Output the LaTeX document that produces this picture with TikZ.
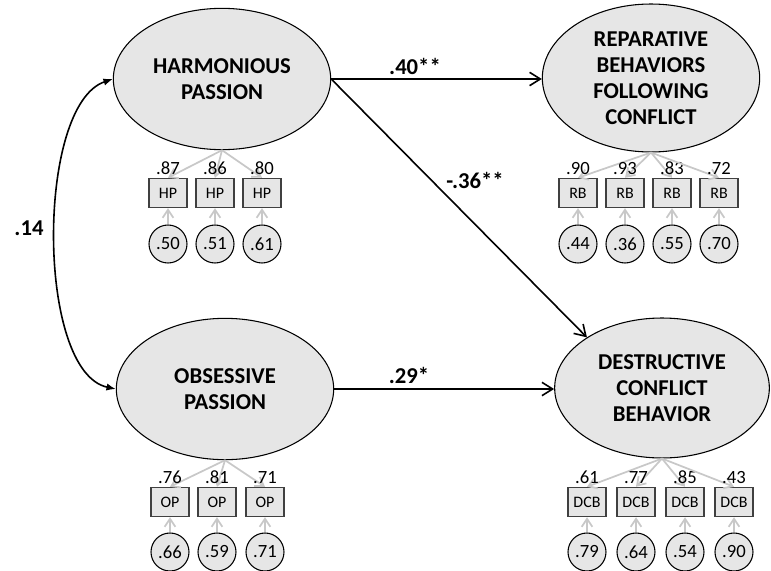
\documentclass[tikz,border=0pt]{standalone}
\usepackage{fontspec}
\setmainfont{Carlito}
\usepackage{tikz}
\usetikzlibrary{positioning, arrows.meta, shapes.geometric}

\definecolor{lvfill}{RGB}{230,230,230}
\definecolor{arrgray}{RGB}{200,200,200}
\definecolor{boxline}{RGB}{64,64,64}

\begin{document}
\begin{tikzpicture}[
    x=0.75pt, y=-0.75pt,
    latent/.style={ellipse, draw, line width=0.8pt, fill=lvfill, inner sep=0pt, align=center,
        minimum width=163pt, minimum height=106pt, font=\fontsize{17}{19.5}\selectfont\bfseries},
    ind/.style={rectangle, draw=boxline, line width=1.1pt, fill=lvfill, inner sep=0pt,
        minimum width=28.5pt, minimum height=21.75pt, font=\fontsize{12}{14}\selectfont},
    err/.style={circle, draw, line width=0.8pt, fill=lvfill, inner sep=0pt,
        minimum size=28.5pt, font=\fontsize{14}{16}\selectfont},
    load/.style={inner sep=1pt, font=\fontsize{14}{16}\selectfont},
    coef/.style={inner sep=1pt, font=\fontsize{17}{19}\selectfont\bfseries},
    reg/.style={-{Straight Barb[length=8pt, width=10pt]}, line width=1.2pt},
    meas/.style={-{Straight Barb[length=6pt, width=8pt]}, draw=arrgray, line width=1.3pt},
    cov/.style={{Latex[length=7pt, width=5.5pt]}-{Latex[length=7pt, width=5.5pt]}, line width=1.2pt}
]
\useasboundingbox (0,0) rectangle (771,571);

% latent variables
\node[latent] (hp) at (222,79) {HARMONIOUS\\PASSION};
\node[latent] (op) at (225,389) {OBSESSIVE\\PASSION};
\node[latent, minimum height=111pt] (rb) at (651,78) {REPARATIVE\\BEHAVIORS\\FOLLOWING\\CONFLICT};
\node[latent, minimum width=161pt, minimum height=105pt] (dcb) at (662,388) {DESTRUCTIVE\\CONFLICT\\BEHAVIOR};

% indicators
\foreach \x/\l/\e [count=\i] in {168/.87/.50, 215/.86/.51, 262/.80/.61} {
  \node[ind] (hp\i) at (\x,193) {HP};
  \node[err] (ehp\i) at (\x,244) {\e};
  \draw[meas] (hp.south) -- (hp\i.north);
  \draw[meas] (ehp\i) -- (hp\i);
  \node[load, above=1pt of hp\i] (lhp\i) {\l};
}
\foreach \x/\l/\e [count=\i] in {170/.76/.66, 217/.81/.59, 265/.71/.71} {
  \node[ind] (op\i) at (\x,502) {OP};
  \node[err] (eop\i) at (\x,552) {\e};
  \draw[meas] (op.south) -- (op\i.north);
  \draw[meas] (eop\i) -- (op\i);
  \node[load, above=1pt of op\i] (lop\i) {\l};
}
\foreach \x/\l/\e [count=\i] in {578/.90/.44, 625/.93/.36, 672/.83/.55, 719/.72/.70} {
  \node[ind] (rb\i) at (\x,193) {RB};
  \node[err] (erb\i) at (\x,244) {\e};
  \draw[meas] (rb.south) -- (rb\i.north);
  \draw[meas] (erb\i) -- (rb\i);
  \node[load, above=1pt of rb\i] (lrb\i) {\l};
}
\foreach \x/\l/\e [count=\i] in {587/.61/.79, 636/.77/.64, 685/.85/.54, 734/.43/.90} {
  \node[ind] (dcb\i) at (\x,502) {DCB};
  \node[err] (edcb\i) at (\x,552) {\e};
  \draw[meas] (dcb.south) -- (dcb\i.north);
  \draw[meas] (edcb\i) -- (dcb\i);
  \node[load, above=1pt of dcb\i] (ldcb\i) {\l};
}

% structural paths
\draw[reg] (hp.east) -- (hp.east -| rb.west);
\draw[reg] (hp.east) -- (dcb.146);
\draw[reg] (op.east) -- (op.east -| dcb.west);
\draw[cov] (hp.west) .. controls (36,105) and (36,372) .. (op.west);

\node[coef] (c40) at (415,66) {.40**};
\node[coef] (c36) at (475,180) {-.36**};
\node[coef] (c29) at (409,375) {.29*};
\node[coef] (c14) at (29,228) {.14};
\end{tikzpicture}
\end{document}
